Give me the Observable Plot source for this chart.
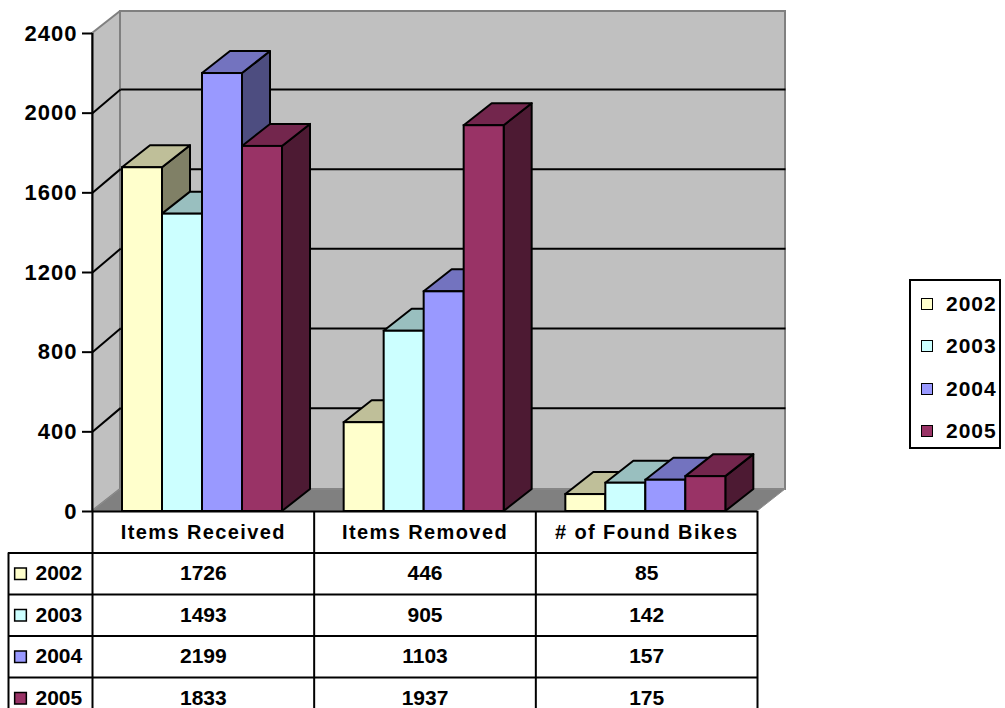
<!DOCTYPE html>
<html>
<head>
<meta charset="utf-8">
<script src="https://cdn.jsdelivr.net/npm/d3@7"></script>
<script src="https://cdn.jsdelivr.net/npm/@observablehq/plot@0.6"></script>
<style>
  html, body { margin: 0; padding: 0; background: #fff; }
  #wrap { position: relative; width: 1005px; height: 708px; overflow: hidden; font-family: "Liberation Sans", Arial, sans-serif; }
  #legend { position: absolute; left: 909px; top: 279px; width: 88px; height: 166px; border: 2px solid #000; background: #fff; }
  .item { position: absolute; left: 10px; height: 24px; display: flex; align-items: center; font-weight: bold; font-size: 21px; letter-spacing: 1px; color: #000; }
  .sw { width: 10px; height: 10px; border: 1px solid #000; margin-right: 13px; }
</style>
</head>
<body>
<div id="wrap"></div>
<script>
// ---- data ----
const categories = ["Items Received", "Items Removed", "# of Found Bikes"];
const years = ["2002", "2003", "2004", "2005"];
const values2002 = [1726, 446, 85];
const values2003 = [1493, 905, 142];
const values2004 = [2199, 1103, 157];
const values2005 = [1833, 1937, 175];
const yTicks = [0, 400, 800, 1200, 1600, 2000, 2400];
const frontColors = ["#FFFFCC", "#CCFFFF", "#9999FF", "#993366"];
const topColors   = ["#BFBF99", "#99BFBF", "#7373BF", "#73264D"];
const sideColors  = ["#808066", "#668080", "#4D4D80", "#4D1A33"];

const series = [values2002, values2003, values2004, values2005];

// ---- layout constants (pixel sizes converted to scale units) ----
const pxX = 665 / 3;       // px per category unit
const pxY = 478 / 2400;    // px per value unit
const DX = 28 / pxX, DY = 22 / pxY, DYG = 23.7 / pxY;
const INSET = 30 / pxX, BW = 40 / pxX;
const R = 41.5 / pxY;      // table row height
const XL = -84 / pxX;      // left edge of row-label column

// ---- build geometry ----
const bars = [];
categories.forEach((c, g) => {
  years.forEach((yr, j) => {
    const x1 = g + INSET + j * BW;
    bars.push({id: `${g}-${j}`, x1, x2: x1 + BW, v: series[j][g], j});
  });
});
const sides = bars.flatMap(b => [
  {id: b.id, x: b.x2, y1: 0, y2: b.v, fill: sideColors[b.j]},
  {id: b.id, x: b.x2 + DX, y1: DY, y2: b.v + DY, fill: sideColors[b.j]}
]);
const tops = bars.flatMap(b => [
  {id: b.id, y: b.v, x1: b.x1, x2: b.x2, fill: topColors[b.j]},
  {id: b.id, y: b.v + DY, x1: b.x1 + DX, x2: b.x2 + DX, fill: topColors[b.j]}
]);
const fronts = bars.map(b => ({...b, fill: frontColors[b.j]}));

const gridVals = yTicks.filter(v => v > 0 && v < 2400);
const cells = [];
years.forEach((yr, k) => categories.forEach((c, g) => cells.push({g, k, v: series[k][g]})));

const svg = Plot.plot({
  width: 1005,
  height: 708,
  marginLeft: 92,
  marginRight: 248,
  marginTop: 33,
  marginBottom: 197,
  x: {domain: [0, 3], axis: null},
  y: {domain: [0, 2400]},
  color: {type: "identity"},
  style: {fontFamily: "Liberation Sans, Arial, sans-serif", background: "#fff", color: "#000", overflow: "visible"},
  marks: [
    // walls & floor
    Plot.areaY([{x: 0, y1: 0, y2: 2400}, {x: DX, y1: DY, y2: 2400 + DY}], {x: "x", y1: "y1", y2: "y2", fill: "#C0C0C0", stroke: "#808080", strokeWidth: 2}),
    Plot.rect([{}], {x1: DX, x2: 3 + DX, y1: DY, y2: 2400 + DY, fill: "#C0C0C0", stroke: "#808080", strokeWidth: 2}),
    Plot.areaX([{y: 0, x1: 0, x2: 3}, {y: DY, x1: DX, x2: 3 + DX}], {y: "y", x1: "x1", x2: "x2", fill: "#808080", stroke: "#8c8c8c", strokeWidth: 1}),
    // gridlines
    Plot.link(gridVals, {x1: 0, y1: d => d, x2: DX, y2: d => d + DYG, stroke: "#000", strokeWidth: 2}),
    Plot.link(gridVals, {x1: DX, y1: d => d + DYG, x2: 3 + DX, y2: d => d + DYG, stroke: "#000", strokeWidth: 2}),
    // bars
    Plot.areaY(sides, {x: "x", y1: "y1", y2: "y2", z: "id", fill: "fill", stroke: "#000", strokeWidth: 2, strokeLinejoin: "round"}),
    Plot.areaX(tops, {y: "y", x1: "x1", x2: "x2", z: "id", fill: "fill", stroke: "#000", strokeWidth: 2, strokeLinejoin: "round"}),
    Plot.rect(fronts, {x1: "x1", x2: "x2", y1: 0, y2: "v", fill: "fill", stroke: "#000", strokeWidth: 2}),
    // axis
    Plot.axisY(yTicks, {tickSize: 10, tickPadding: 5, fontSize: 22, fontWeight: "bold", strokeWidth: 2, tickFormat: d => String(d)}),
    Plot.ruleX([0], {y1: -5 * R, y2: 2400, stroke: "#000", strokeWidth: 2}),
    Plot.ruleY([0], {x1: 0, x2: 3, stroke: "#000", strokeWidth: 2}),
    // data table
    Plot.ruleX([1, 2, 3], {y1: -5 * R, y2: 0, stroke: "#000", strokeWidth: 2}),
    Plot.ruleX([XL], {y1: -5 * R, y2: -R, stroke: "#000", strokeWidth: 2}),
    Plot.ruleY([1, 2, 3, 4].map(k => -k * R), {x1: XL, x2: 3, stroke: "#000", strokeWidth: 2}),
    Plot.text(categories, {x: (d, i) => i + 0.5, y: -R / 2, text: d => d, fontSize: 20, fontWeight: "bold"}),
    Plot.text(cells, {x: d => d.g + 0.5, y: d => -(d.k + 1.5) * R, text: d => String(d.v), fontSize: 21, fontWeight: "bold"}),
    Plot.dot(years, {x: XL + 12 / pxX, y: (d, k) => -(k + 1.5) * R, symbol: "square", r: 6.6, fill: (d, k) => frontColors[k], stroke: "#000", strokeWidth: 1.5}),
    Plot.text(years, {x: XL + 27 / pxX, y: (d, k) => -(k + 1.5) * R, text: d => d, textAnchor: "start", fontSize: 21, fontWeight: "bold"})
  ]
});

d3.select(svg).selectAll("text")
  .filter(function () { return categories.includes(this.textContent); })
  .attr("letter-spacing", "1.4px");
d3.select(svg).selectAll('g[aria-label="y-axis tick label"] text').attr("letter-spacing", "1px");

const wrap = document.getElementById("wrap");
wrap.appendChild(svg);

// legend
const legend = document.createElement("div");
legend.id = "legend";
years.forEach((yr, k) => {
  const it = document.createElement("div");
  it.className = "item";
  it.style.top = (11 + k * 42.3) + "px";
  const sw = document.createElement("span");
  sw.className = "sw";
  sw.style.background = frontColors[k];
  it.appendChild(sw);
  it.appendChild(document.createTextNode(yr));
  legend.appendChild(it);
});
wrap.appendChild(legend);
</script>
</body>
</html>
